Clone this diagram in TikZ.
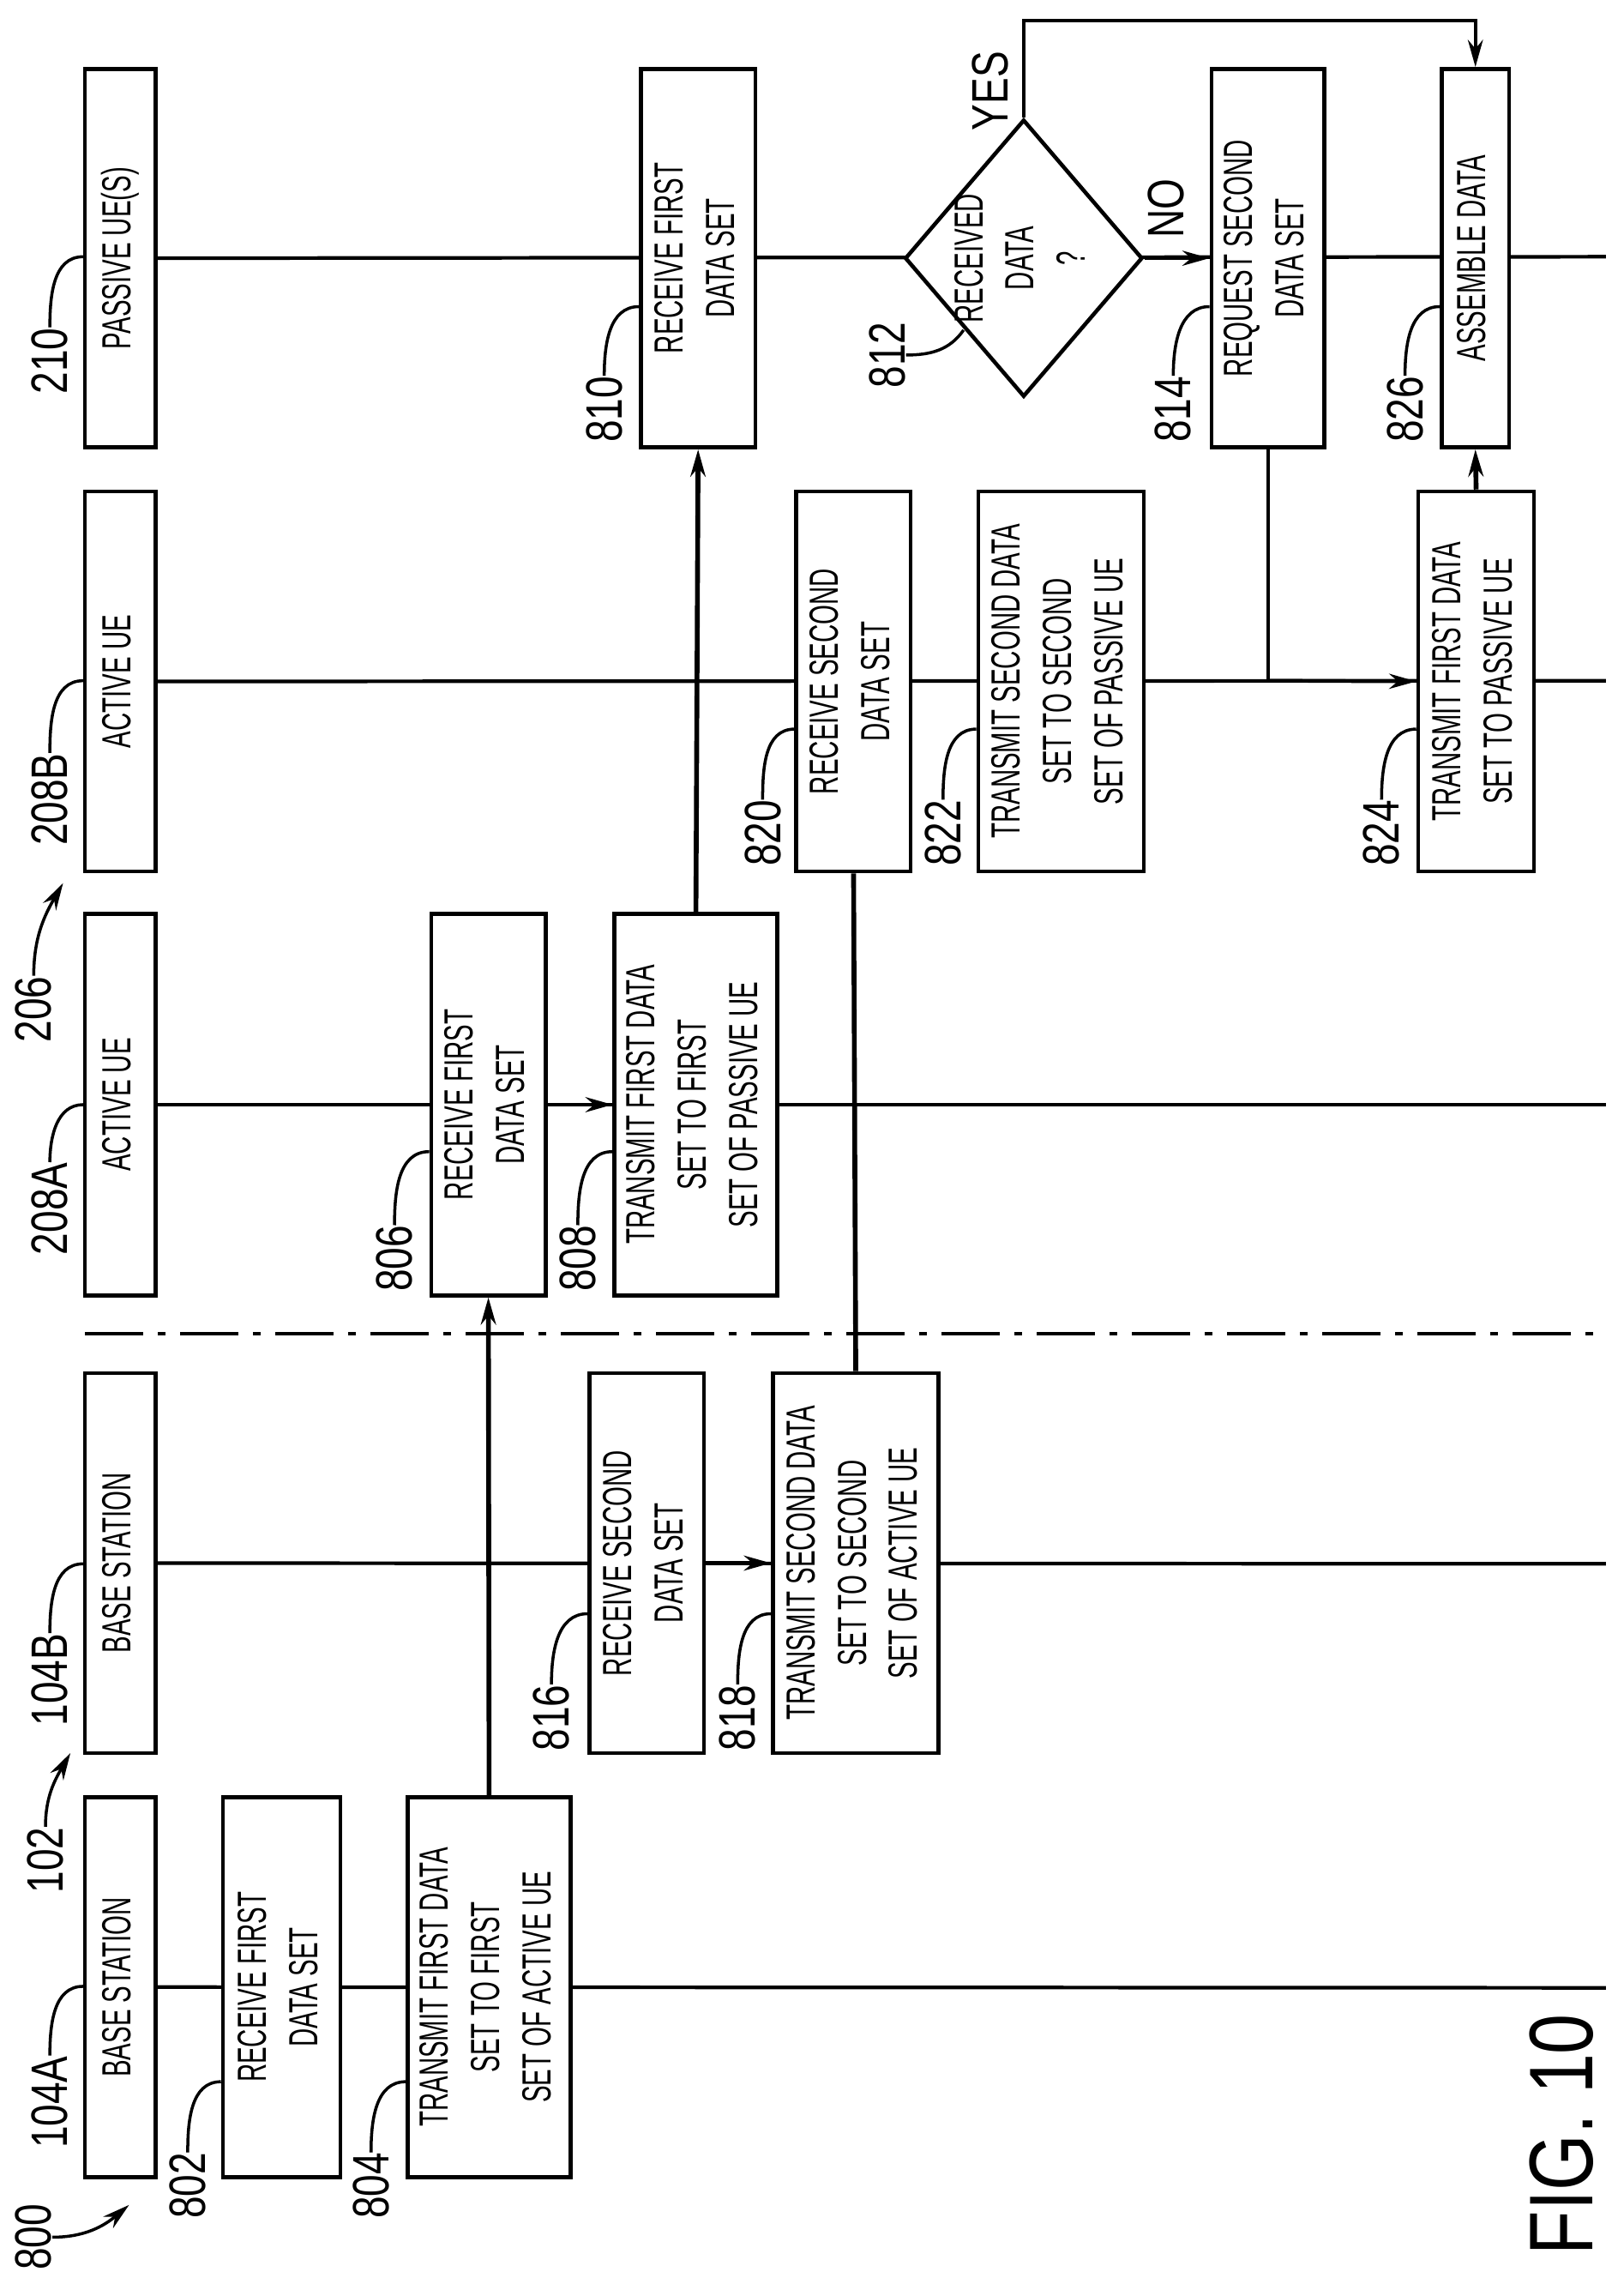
\documentclass[tikz,border=0pt]{standalone}
\usepackage{graphicx}
\usepackage{fontspec}
\setmainfont{Liberation Sans}
\usetikzlibrary{positioning,arrows.meta,shapes.geometric}

\newcommand\pu{0.0171cm}
\newcommand\cnd[1]{\scalebox{0.62}[1]{\fontsize{13.5}{17}\selectfont\begin{tabular}{@{}c@{}}#1\end{tabular}}}
\newcommand\refno[1]{\rotatebox{90}{\scalebox{0.77}[1]{\fontsize{17}{17}\selectfont #1}}}
% one step box, given by its edges in picture units
\newcommand\stepbox[6]{\node[box,minimum width={(#3-#2)*\pu},minimum height={(#5-#4)*\pu}] (#1) at ({(#2+#3)/2},{(#4+#5)/2}) {\rotatebox{90}{\cnd{#6}}};}

\tikzset{
  box/.style={draw, fill=white, line width=1.3pt, inner sep=0pt},
  life/.style={line width=1.2pt},
  conn/.style={line width=1.6pt},
  arr/.style={-{Stealth[length=9pt,width=5pt]}},
  lead/.style={line width=1pt},
  num/.style={inner sep=0pt},
}

\begin{document}
\begin{tikzpicture}[x=\pu, y=-\pu]
  \useasboundingbox (0,0) rectangle (1107,1561);

  % lane headers
  \stepbox{h104a}{58}{106}{1225}{1484}{BASE STATION}
  \stepbox{h104b}{58}{106}{936}{1195}{BASE STATION}
  \stepbox{h208a}{58}{106}{623}{883}{ACTIVE UE}
  \stepbox{h208b}{58}{106}{335}{594}{ACTIVE UE}
  \stepbox{h210}{58}{106}{47}{305}{PASSIVE UE(S)}

  % lifelines
  \draw[life] (h104a.east) -- (1095,1355);
  \draw[life] (h104b.east) -- (1095,1066);
  \draw[life] (h208a.east) -- (1095,753);
  \draw[life] (h208b.east) -- (1095,464);
  \draw[life] (h210.east) -- (1095,175);

  \draw[line width=1.3pt, dash pattern=on 6.8mm off 1.7mm on 0.9mm off 1.7mm] (58,909) -- (1095,909);

  % steps
  \stepbox{b802}{152}{232}{1225}{1484}{RECEIVE FIRST\\DATA SET}
  \stepbox{b804}{278}{389}{1225}{1484}{TRANSMIT FIRST DATA\\SET TO FIRST\\SET OF ACTIVE UE}
  \stepbox{b816}{402}{480}{936}{1195}{RECEIVE SECOND\\DATA SET}
  \stepbox{b818}{527}{640}{936}{1195}{TRANSMIT SECOND DATA\\SET TO SECOND\\SET OF ACTIVE UE}
  \stepbox{b806}{294}{372}{623}{883}{RECEIVE FIRST\\DATA SET}
  \stepbox{b808}{419}{530}{623}{883}{TRANSMIT FIRST DATA\\SET TO FIRST\\SET OF PASSIVE UE}
  \stepbox{b820}{543}{621}{335}{594}{RECEIVE SECOND\\DATA SET}
  \stepbox{b822}{667}{780}{335}{594}{TRANSMIT SECOND DATA\\SET TO SECOND\\SET OF PASSIVE UE}
  \stepbox{b824}{967}{1046}{335}{594}{TRANSMIT FIRST DATA\\SET TO PASSIVE UE}
  \stepbox{b810}{437}{515}{47}{305}{RECEIVE FIRST\\DATA SET}
  \stepbox{b814}{826}{903}{47}{305}{REQUEST SECOND\\DATA SET}
  \stepbox{b826}{983}{1029}{47}{305}{ASSEMBLE DATA}

  \node[box, diamond, minimum width=162*\pu, minimum height=189*\pu] (d812) at (698,176) {};
  \node at (d812) {\rotatebox{90}{\cnd{RECEIVED\\DATA\\?}}};

  % connectors
  \draw[life,arr] (b816.east) -- (b818.west);
  \draw[life,arr] (b806.east) -- (b808.west);
  \draw[conn,arr] (b804.north) -- (b806.south);
  \draw[conn,arr] (b808.north) -- (b810.south);
  \draw[conn] (b818.north) -- (b820.south);
  \draw[life,arr] (d812.east) -- (b814.west);
  \draw[life,arr] (d812.north) -- (d812.north |- 0,14) -| (b826.north);
  \coordinate (j814) at (b814.south |- 0,464);
  \draw[life] (b814.south) -- (j814);
  \draw[life,arr] (j814) -- (b824.west);
  \draw[conn,arr] (b824.north) -- (b826.south);

  \node[num] at (675,62) {\refno{YES}};
  \node[num] at (795,142) {\refno{NO}};

  % reference numerals
  \node[num] (n800) at (23,1525) {\refno{800}};
  \node[num] (n102) at (31,1268) {\refno{102}};
  \node[num] (n206) at (23,688) {\refno{206}};
  \draw[lead,arr] (n800.east) to[out=0,in=220] (88,1503);
  \draw[lead,arr] (n102.north) to[out=90,in=240] (48,1195);
  \draw[lead,arr] (n206.north) to[out=90,in=240] (43,602);

  \foreach \n/\x/\y/\b/\e in {104A/34/1433/h104a/1354, 104B/34/1145/h104b/1066,
      208A/34/824/h208a/753, 208B/34/545/h208b/464, 210/34/246/h210/175,
      802/128/1490/b802/1419, 804/253/1490/b804/1419,
      816/376/1171/b816/1100, 818/503/1171/b818/1100,
      806/269/858/b806/785, 808/394/858/b808/785,
      810/412/279/b810/209, 820/520/568/b820/497, 822/643/568/b822/497,
      824/942/568/b824/497, 814/800/279/b814/209, 826/958/279/b826/209}{
    \node[num] (n\n) at (\x,\y) {\refno{\n}};
    \draw[lead] (n\n.north) to[out=90,in=180] (\b.west |- 0,\e);
  }
  \node[num] (n812) at (605,242) {\refno{812}};
  \draw[lead] (n812.east) to[out=0,in=235] (657,225);

  \node[num] (fig) at (1065,1455) {\rotatebox{90}{\scalebox{0.8}[1]{\fontsize{30}{30}\selectfont FIG. 10}}};
\end{tikzpicture}
\end{document}
